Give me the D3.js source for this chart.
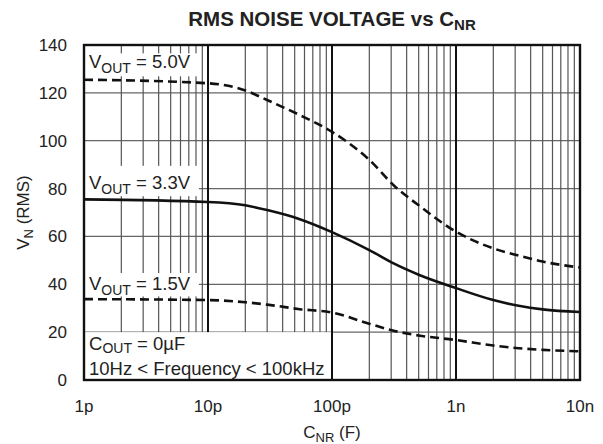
<!DOCTYPE html>
<html>
<head>
<meta charset="utf-8">
<script src="https://cdn.jsdelivr.net/npm/d3@7"></script>
<style>
  html, body { margin: 0; padding: 0; background: #fff; }
  svg text { font-family: "Liberation Sans", Arial, sans-serif; fill: #222; }
</style>
</head>
<body>
<div id="vis"></div>
<script>
// capacitance in farads, noise in uV RMS
var capValues = [1e-12, 1e-11, 2e-11, 3e-11, 5.5e-11, 1e-10, 2e-10, 3.2e-10, 5e-10, 1e-9, 2e-9, 3.2e-9, 5e-9, 1e-8]
var vout50 = [125.5, 124, 121, 117, 110.7, 103.7, 92, 81, 73, 62, 55, 52, 49.5, 47]
var vout33 = [75.5, 74.4, 73, 71, 67.2, 61.8, 54.3, 48.5, 44, 38.4, 33.4, 31, 29.5, 28.4]
var vout15 = [33.8, 33.4, 32.5, 31.5, 29.6, 28.2, 23.5, 20.5, 18.6, 16.7, 14.4, 13.3, 12.6, 12]
var xTicks = [1e-12, 1e-11, 1e-10, 1e-9, 1e-8]
var xTickLabels = ["1p", "10p", "100p", "1n", "10n"]
var yTicks = [0, 20, 40, 60, 80, 100, 120, 140]

var margin = { top: 45, right: 23, bottom: 64, left: 84 },
    width = 603 - margin.left - margin.right,
    height = 444 - margin.top - margin.bottom;

var svg = d3.select("#vis")
    .append("svg")
    .attr("width", 603)
    .attr("height", 444)

var g = svg.append("g")
    .attr("transform", "translate(" + margin.left + "," + margin.top + ")");

var x = d3.scaleLog().domain([1e-12, 1e-8]).range([0, width])
var y = d3.scaleLinear().domain([0, 140]).range([height, 0])

// vertical grid: minor and decade lines
var minor = []
for (var dec = -12; dec < -8; dec++) {
    for (var m = 2; m <= 9; m++) minor.push(m * Math.pow(10, dec))
}

g.selectAll(".hgrid")
    .data(yTicks.slice(1, -1))
    .enter().append("line")
    .attr("x1", 0).attr("x2", width)
    .attr("y1", function (d) { return y(d) })
    .attr("y2", function (d) { return y(d) })
    .attr("stroke", "#666")
    .attr("stroke-width", 1.2)

g.selectAll(".vminor")
    .data(minor)
    .enter().append("line")
    .attr("x1", function (d) { return x(d) })
    .attr("x2", function (d) { return x(d) })
    .attr("y1", 0).attr("y2", height)
    .attr("stroke", "#555")
    .attr("stroke-width", 1.2)

g.selectAll(".vmajor")
    .data(xTicks.slice(1, -1))
    .enter().append("line")
    .attr("x1", function (d) { return x(d) })
    .attr("x2", function (d) { return x(d) })
    .attr("y1", 0).attr("y2", height)
    .attr("stroke", "#111")
    .attr("stroke-width", 2)

// white boxes behind the labels
var boxes = [
    { x0: 1e-12, x1: 8.6e-12, v0: 126.5, v1: 136.5 },
    { x0: 1e-12, x1: 8.6e-12, v0: 76.4, v1: 89.5 },
    { x0: 1e-12, x1: 8.6e-12, v0: 34.5, v1: 44.7 },
    { x0: 1e-12, x1: 1e-10, v0: 0, v1: 20 }
]
g.selectAll(".box")
    .data(boxes)
    .enter().append("rect")
    .attr("x", function (d) { return x(d.x0) + 1 })
    .attr("width", function (d) { return x(d.x1) - x(d.x0) - 2 })
    .attr("y", function (d) { return y(d.v1) })
    .attr("height", function (d) { return y(d.v0) - y(d.v1) - 1 })
    .attr("fill", "#fff")

// curves
var line = d3.line()
    .x(function (d) { return x(d[0]) })
    .y(function (d) { return y(d[1]) })
    .curve(d3.curveMonotoneX)

var series = [
    { values: vout50, dash: "9,5" },
    { values: vout33, dash: null },
    { values: vout15, dash: "9,5" }
]
series.forEach(function (s) {
    g.append("path")
        .datum(capValues.map(function (c, i) { return [c, s.values[i]] }))
        .attr("d", line)
        .attr("fill", "none")
        .attr("stroke", "#111")
        .attr("stroke-width", 2.6)
        .attr("stroke-dasharray", s.dash)
})

// frame
g.append("rect")
    .attr("x", 0).attr("y", 0)
    .attr("width", width).attr("height", height)
    .attr("fill", "none")
    .attr("stroke", "#111")
    .attr("stroke-width", 2.4)

// labels inside plot
function subLabel(px, py, main, sub, rest, drop) {
    var t = g.append("text")
        .attr("x", px).attr("y", py)
        .attr("font-size", "18.5px")
    t.append("tspan").text(main)
    t.append("tspan").attr("font-size", "14px").attr("dy", drop).text(sub)
    t.append("tspan").attr("dy", -drop).text(rest)
}
subLabel(5, 68 - margin.top, "V", "OUT", " = 5.0V", 4.5)
subLabel(5, 189 - margin.top, "V", "OUT", " = 3.3V", 4.5)
subLabel(5, 290 - margin.top, "V", "OUT", " = 1.5V", 4.5)
subLabel(5, 349.5 - margin.top, "C", "OUT", " = 0\u00b5F", 3.5)
g.append("text")
    .attr("x", 5).attr("y", 374.5 - margin.top)
    .attr("font-size", "18.5px")
    .text("10Hz < Frequency < 100kHz")

// axes tick labels
g.selectAll(".ylab")
    .data(yTicks)
    .enter().append("text")
    .attr("x", -17)
    .attr("y", function (d) { return y(d) + 6 })
    .attr("text-anchor", "end")
    .attr("font-size", "17px")
    .text(function (d) { return d })

g.selectAll(".xlab")
    .data(xTicks)
    .enter().append("text")
    .attr("x", function (d) { return x(d) })
    .attr("y", height + 32)
    .attr("text-anchor", "middle")
    .attr("font-size", "17px")
    .text(function (d, i) { return xTickLabels[i] })

// axis titles
var xt = g.append("text")
    .attr("x", width / 2).attr("y", height + 58)
    .attr("text-anchor", "middle")
    .attr("font-size", "17px")
xt.append("tspan").text("C")
xt.append("tspan").attr("font-size", "13px").attr("dy", 4).text("NR")
xt.append("tspan").attr("dy", -4).text(" (F)")

var yt = g.append("text")
    .attr("transform", "translate(-55," + (height / 2) + ") rotate(-90)")
    .attr("text-anchor", "middle")
    .attr("font-size", "17px")
yt.append("tspan").text("V")
yt.append("tspan").attr("font-size", "13px").attr("dy", 4).text("N")
yt.append("tspan").attr("dy", -4).text(" (RMS)")

var title = svg.append("text")
    .attr("x", margin.left + width / 2).attr("y", 26)
    .attr("text-anchor", "middle")
    .attr("font-size", "20.5px")
    .attr("font-weight", "bold")
title.append("tspan").text("RMS NOISE VOLTAGE vs C")
title.append("tspan").attr("font-size", "15px").attr("dy", 4).text("NR")
</script>
</body>
</html>
